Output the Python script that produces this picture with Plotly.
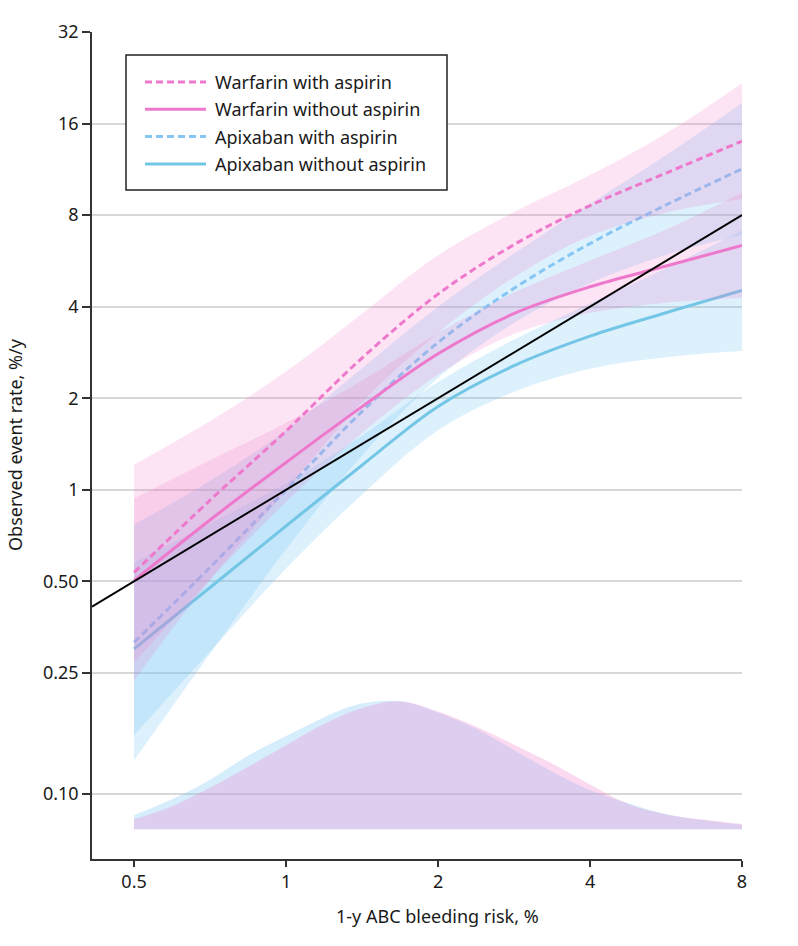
import plotly.graph_objects as go
import math

# ---------------- data ----------------
risk = [0.5, 0.71, 1.0, 1.41, 2.0, 2.83, 4.0, 5.66, 8.0]

warf_asa = [0.535, 0.93, 1.56, 2.7, 4.4, 6.4, 8.6, 11.0, 14.0]
warf_asa_lo = [0.236, 0.511, 0.994, 1.93, 3.28, 5.0, 6.83, 8.15, 9.03]
warf_asa_hi = [1.21, 1.69, 2.45, 3.78, 5.90, 8.19, 10.84, 14.85, 21.7]

warf_noasa = [0.503, 0.80, 1.23, 1.87, 2.8, 3.8, 4.65, 5.44, 6.36]
warf_noasa_lo = [0.270, 0.51, 0.911, 1.53, 2.39, 3.25, 3.81, 4.12, 4.27]
warf_noasa_hi = [0.936, 1.256, 1.66, 2.28, 3.28, 4.45, 5.67, 7.18, 9.48]

apix_asa = [0.315, 0.56, 1.0, 1.8, 3.05, 4.6, 6.45, 8.64, 11.35]
apix_asa_lo = [0.129, 0.292, 0.637, 1.29, 2.33, 3.54, 4.78, 5.92, 6.88]
apix_asa_hi = [0.769, 1.075, 1.57, 2.50, 4.0, 5.98, 8.71, 12.6, 18.7]

apix_noasa = [0.30, 0.48, 0.76, 1.2, 1.88, 2.56, 3.2, 3.82, 4.52]
apix_noasa_lo = [0.156, 0.296, 0.551, 0.96, 1.57, 2.10, 2.5, 2.73, 2.86]
apix_noasa_hi = [0.576, 0.778, 1.05, 1.5, 2.26, 3.12, 4.10, 5.35, 7.14]

# distribution of bleeding risk (drawn at bottom)
dens_x = [0.5, 0.59, 0.707, 0.84, 1.0, 1.19, 1.41, 1.68, 2.0, 2.38, 2.83, 3.36, 4.0, 4.76, 5.66, 6.73, 8.0]
dens_warf = [0.0826, 0.0906, 0.1047, 0.1226, 0.1446, 0.170, 0.1914, 0.2018, 0.1867, 0.1664,
             0.1452, 0.1261, 0.1074, 0.0926, 0.0856, 0.0822, 0.0797]
dens_apix = [0.0853, 0.0955, 0.1113, 0.1336, 0.1549, 0.1788, 0.1982, 0.2017, 0.1853, 0.1637,
             0.1393, 0.1186, 0.1030, 0.0931, 0.0857, 0.0819, 0.0791]
dens_floor_x = [0.5, 8.0]
dens_floor_y = [0.0765, 0.0765]

identity = [0.4127, 8.0]

x_ticks = [0.5, 1, 2, 4, 8]
x_ticktext = ["0.5", "1", "2", "4", "8"]
y_ticks = [0.1, 0.25, 0.5, 1, 2, 4, 8, 16, 32]
y_ticktext = ["0.10", "0.25", "0.50", "1", "2", "4", "8", "16", "32"]

legend_names = ["Warfarin with aspirin", "Warfarin without aspirin",
                "Apixaban with aspirin", "Apixaban without aspirin"]

# ---------------- styles ----------------
PINK = "#EE78CC"
BLUE = "#74C6E6"
BLUE_D = "#86C6F4"
PINK_BAND = "rgba(238,118,200,0.20)"
BLUE_BAND = "rgba(110,195,245,0.23)"
PINK_DENS = "rgba(238,130,210,0.30)"
BLUE_DENS = "rgba(120,200,245,0.30)"
FONT = "Noto Sans, Open Sans, DejaVu Sans, sans-serif"
DASH = "7px,4px"

fig = go.Figure()


def band(x, lo, hi, color):
    fig.add_trace(go.Scatter(x=x, y=hi, mode="lines", line=dict(width=0, shape="spline"),
                             showlegend=False, hoverinfo="skip"))
    fig.add_trace(go.Scatter(x=x, y=lo, mode="lines", line=dict(width=0, shape="spline"),
                             fill="tonexty", fillcolor=color, showlegend=False, hoverinfo="skip"))


def curve(x, y, color, dash, name):
    fig.add_trace(go.Scatter(x=x, y=y, mode="lines", name=name,
                             line=dict(color=color, width=3, dash=dash, shape="spline"),
                             showlegend=False))


# densities
fig.add_trace(go.Scatter(x=dens_floor_x, y=dens_floor_y, mode="lines", line=dict(width=0),
                         showlegend=False, hoverinfo="skip"))
fig.add_trace(go.Scatter(x=dens_x, y=dens_apix, mode="lines", line=dict(width=0, shape="spline"),
                         fill="tonexty", fillcolor=BLUE_DENS, showlegend=False))
fig.add_trace(go.Scatter(x=dens_floor_x, y=dens_floor_y, mode="lines", line=dict(width=0),
                         showlegend=False, hoverinfo="skip"))
fig.add_trace(go.Scatter(x=dens_x, y=dens_warf, mode="lines", line=dict(width=0, shape="spline"),
                         fill="tonexty", fillcolor=PINK_DENS, showlegend=False))

# apixaban bands + lines
band(risk, apix_asa_lo, apix_asa_hi, BLUE_BAND)
band(risk, apix_noasa_lo, apix_noasa_hi, BLUE_BAND)
curve(risk, apix_asa, BLUE_D, DASH, legend_names[2])
curve(risk, apix_noasa, BLUE, "solid", legend_names[3])

# warfarin bands + lines
band(risk, warf_asa_lo, warf_asa_hi, PINK_BAND)
band(risk, warf_noasa_lo, warf_noasa_hi, PINK_BAND)
curve(risk, warf_asa, PINK, DASH, legend_names[0])
curve(risk, warf_noasa, PINK, "solid", legend_names[1])

# identity line
fig.add_trace(go.Scatter(x=identity, y=identity, mode="lines",
                         line=dict(color="black", width=2), showlegend=False))

# ---------------- layout ----------------
W, H = 798, 946
PLOT_L, PLOT_R, PLOT_T, PLOT_B = 92, 742, 32, 859  # pixel edges of the plot area
PW, PH = PLOT_R - PLOT_L, PLOT_B - PLOT_T


def px_x(p):
    return (p - PLOT_L) / PW


def px_y(p):
    return (PLOT_B - p) / PH


shapes = [dict(type="rect", xref="paper", yref="paper",
               x0=px_x(126), x1=px_x(447), y0=px_y(190), y1=px_y(55),
               line=dict(color="#222", width=1.5), fillcolor="white", layer="above")]
leg_colors = [PINK, PINK, BLUE_D, BLUE]
leg_dash = [DASH, "solid", DASH, "solid"]
leg_rows = [82, 109.3, 136.6, 164]
annotations = []
for name, c, d, row in zip(legend_names, leg_colors, leg_dash, leg_rows):
    shapes.append(dict(type="line", xref="paper", yref="paper",
                       x0=px_x(145), x1=px_x(206), y0=px_y(row), y1=px_y(row),
                       line=dict(color=c, width=3, dash=d), layer="above"))
    annotations.append(dict(text=name, xref="paper", yref="paper", x=px_x(213), y=px_y(row),
                            xanchor="left", yanchor="middle", showarrow=False,
                            font=dict(family=FONT, size=18, color="#1a1a1a")))

annotations.append(dict(text="1-y ABC bleeding risk, %", xref="paper", yref="paper",
                        x=px_x(438), y=px_y(916), xanchor="center", yanchor="middle",
                        showarrow=False, font=dict(family=FONT, size=18, color="#1a1a1a")))
annotations.append(dict(text="Observed event rate, %/y", xref="paper", yref="paper",
                        x=px_x(15), y=px_y(445), xanchor="center", yanchor="middle",
                        textangle=-90, showarrow=False, borderpad=0,
                        font=dict(family=FONT, size=18, color="#1a1a1a")))

fig.update_layout(
    width=W, height=H,
    margin=dict(l=PLOT_L, r=W - PLOT_R, t=PLOT_T, b=H - PLOT_B, pad=0),
    paper_bgcolor="white", plot_bgcolor="white",
    font=dict(family=FONT, size=18, color="#1a1a1a"),
    showlegend=False,
    shapes=shapes, annotations=annotations,
    xaxis=dict(type="log", range=[math.log10(0.4127), math.log10(8.0)],
               tickvals=x_ticks, ticktext=x_ticktext, ticks="outside", ticklen=6,
               tickwidth=1.5, tickcolor="#333", showline=True, linecolor="#333", linewidth=1.5,
               showgrid=False, zeroline=False, tickfont=dict(size=18)),
    yaxis=dict(type="log", range=[math.log10(0.0611), math.log10(32)],
               tickvals=y_ticks, ticktext=y_ticktext, ticks="outside", ticklen=8,
               tickwidth=1.5, tickcolor="#333", showline=True, linecolor="#333", linewidth=1.5,
               showgrid=True, gridcolor="#D8D8D8", gridwidth=2, zeroline=False,
               tickfont=dict(size=18)),
)

fig.write_html("out.html", config={"displayModeBar": False},
               post_script="document.body.style.margin='0px';document.body.style.overflow='hidden';")
